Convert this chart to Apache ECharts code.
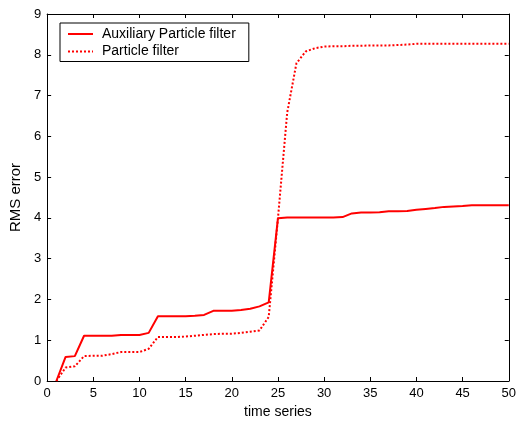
<!DOCTYPE html>
<html>
<head>
<meta charset="utf-8">
<script src="https://cdn.jsdelivr.net/npm/echarts@6/dist/echarts.min.js"></script>
<style>
  html, body { margin: 0; padding: 0; background: #fff; }
  #chart { width: 519px; height: 424px; }
</style>
</head>
<body>
<div id="chart"></div>
<script>
// time axis and the two error curves
var timeSteps = [];
for (var t = 1; t <= 50; t++) timeSteps.push(t);

var auxiliaryPF = [
  0, 0.59, 0.61, 1.11, 1.11, 1.11, 1.11, 1.13, 1.13, 1.13,
  1.18, 1.59, 1.59, 1.59, 1.59, 1.60, 1.62, 1.72, 1.72, 1.72,
  1.74, 1.77, 1.83, 1.93, 3.99, 4.01, 4.01, 4.01, 4.01, 4.01,
  4.01, 4.02, 4.11, 4.13, 4.13, 4.14, 4.16, 4.16, 4.17, 4.20,
  4.22, 4.24, 4.27, 4.28, 4.29, 4.31, 4.31, 4.31, 4.31, 4.31
];

var particleF = [
  0, 0.33, 0.36, 0.61, 0.62, 0.62, 0.66, 0.71, 0.71, 0.71,
  0.79, 1.08, 1.08, 1.08, 1.09, 1.11, 1.13, 1.15, 1.16, 1.16,
  1.18, 1.21, 1.24, 1.57, 3.99, 6.58, 7.79, 8.08, 8.16, 8.20,
  8.21, 8.21, 8.22, 8.22, 8.23, 8.23, 8.23, 8.24, 8.25, 8.27,
  8.27, 8.27, 8.27, 8.27, 8.27, 8.27, 8.27, 8.27, 8.27, 8.27
];

var seriesNames = ['Auxiliary Particle filter', 'Particle filter'];

function pairs(ys) {
  var out = [];
  for (var i = 0; i < ys.length; i++) out.push([timeSteps[i], ys[i]]);
  return out;
}

var font = 'Liberation Sans, Arial, sans-serif';

var myChart = echarts.init(document.getElementById('chart'));

// shared look for the four sides of the box (ticks point inwards)
function boxAxis(extra) {
  return Object.assign({
    axisLine: { show: true, onZero: false, lineStyle: { color: '#000', width: 1 } },
    axisTick: { show: true, inside: true, length: 4, lineStyle: { color: '#000' } },
    splitLine: { show: false }
  }, extra);
}

var option = {
  animation: false,
  backgroundColor: '#fff',
  grid: { left: 46, right: 6, top: 14, bottom: 40, containLabel: false },
  legend: {
    orient: 'vertical',
    left: 60,
    top: 23,
    padding: [4, 13, 3, 7],
    itemGap: 3.5,
    itemWidth: 25,
    itemHeight: 14,
    borderColor: '#000',
    borderWidth: 1,
    borderRadius: 0,
    backgroundColor: '#fff',
    itemStyle: { opacity: 0 },
    textStyle: { fontFamily: font, fontSize: 14, color: '#000', padding: [0, 0, 0, 4] },
    data: seriesNames
  },
  xAxis: [
    boxAxis({
      type: 'value', min: 0, max: 50, interval: 5, position: 'bottom',
      name: 'time series', nameLocation: 'middle', nameGap: 24,
      nameTextStyle: { fontFamily: font, fontSize: 14, color: '#000' },
      axisLabel: { fontFamily: font, fontSize: 13, color: '#000', margin: 6 }
    }),
    boxAxis({
      type: 'value', min: 0, max: 50, interval: 5, position: 'top',
      axisLabel: { show: false }
    })
  ],
  yAxis: [
    boxAxis({
      type: 'value', min: 0, max: 9, interval: 1, position: 'left',
      name: 'RMS error', nameLocation: 'middle', nameGap: 19,
      nameTextStyle: { fontFamily: font, fontSize: 15, color: '#000' },
      axisLabel: { fontFamily: font, fontSize: 13, color: '#000', margin: 6 }
    }),
    boxAxis({
      type: 'value', min: 0, max: 9, interval: 1, position: 'right',
      axisLabel: { show: false }
    })
  ],
  series: [
    {
      name: seriesNames[0],
      type: 'line',
      xAxisIndex: 0, yAxisIndex: 0,
      symbol: 'none',
      data: pairs(auxiliaryPF),
      itemStyle: { color: '#ff0000' },
      lineStyle: { color: '#ff0000', width: 2, type: 'solid' }
    },
    {
      name: seriesNames[1],
      type: 'line',
      xAxisIndex: 0, yAxisIndex: 0,
      symbol: 'none',
      data: pairs(particleF),
      itemStyle: { color: '#ff0000' },
      lineStyle: { color: '#ff0000', width: 2, type: [2, 2] }
    }
  ]
};

myChart.setOption(option);
</script>
</body>
</html>
